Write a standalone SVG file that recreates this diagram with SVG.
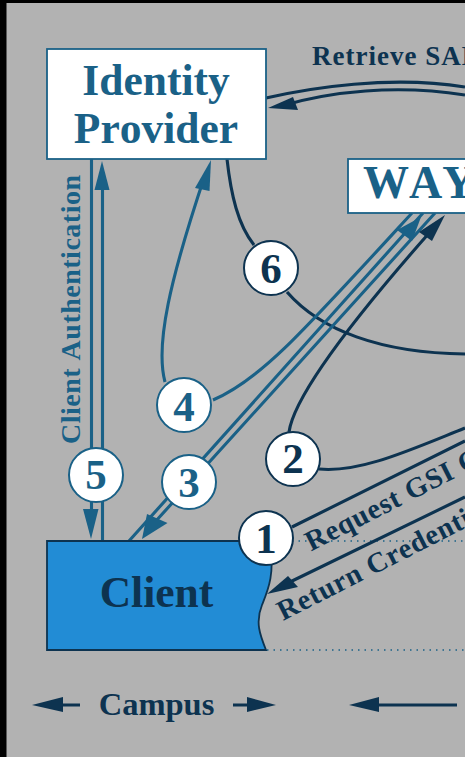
<svg xmlns="http://www.w3.org/2000/svg" width="467" height="757" viewBox="0 0 467 757">
<style>
text{font-family:"Liberation Serif",serif;font-weight:bold;font-kerning:none}
.lt{fill:#1a6187}.dk{fill:#0d3350}
.cl{fill:none;stroke:#1a6187;stroke-width:3.1}
.cd{fill:none;stroke:#0d3350;stroke-width:3.1}
.n{fill:#fff;stroke:#1a6187;stroke-width:2}
.nd{fill:#fff;stroke:#0d3350;stroke-width:2}
.num{font-size:43px;text-anchor:middle}
.big{font-size:43.5px;text-anchor:middle}
.h1{fill:#1a6187}.h2{fill:#0d3350}
.dot{fill:none;stroke:#1a6187;stroke-width:1.4;stroke-dasharray:1.5 5}
</style>
<rect width="467" height="757" fill="#fff"/>
<rect width="465" height="757" fill="#000"/>
<rect x="6.5" y="3" width="458.5" height="754" fill="#b2b2b2"/>
<svg x="0" y="0" width="465" height="757" viewBox="0 0 465 757">
<g id="connectors">
<path class="dot" d="M292 541H465M267 650H465"/>
<path class="cd" d="M266 98C310 88 390 75 465 87M285 105C330 92 395 84 465 95"/>
<path class="h2" d="M268 108L293 97L298 110Z"/>
<path class="cd" d="M227 159C231 195 238 225 254 245M287 292C320 330 380 353 465 354"/>
<path class="cl" d="M91.500 159V450M102.500 175V541M91.500 500V512"/>
<path class="h1" d="M102 161L109.500 190H94.500Z"/>
<path class="h1" d="M91 539L83 509H98.500Z"/>
<path class="cl" d="M165 382C155 345 170 280 205 175"/>
<path class="h1" d="M211 160L209.500 191L195 188Z"/>
<path class="cl" d="M213 400C260 380 300 335 412 213"/>
<path class="cl" d="M129 541L423 213M155 522L435 213"/>
<path class="h1" d="M142 539L167.500 523L147 514Z"/>
<path class="h1" d="M421 217L412 241L397 230Z"/>
<path class="cd" d="M289 432C295 390 370 300 430 232"/>
<path class="h2" d="M445 215L432 241L419 232Z"/>
<path class="cd" d="M319 469C360 473 410 450 465 428"/>
<path class="cd" d="M292 527L465 441M290 582L465 497"/>
<path class="h2" d="M267 594L288 576L298 587Z"/>
<path class="h2" d="M32 705L63 697V712Z"/>
<path class="cd" d="M60 705H80M233 705H250M368 705H457"/>
<path class="h2" d="M276 705L247 697V712Z"/>
<path class="h2" d="M349 705L379 697V712Z"/>
</g>
<g id="identity-provider"><rect x="47" y="49" width="219" height="110" fill="#fff" stroke="#1a6187" stroke-width="1.8"/>
<text class="lt big" x="156" y="94.500">Identity</text>
<text class="lt big" x="156" y="143">Provider</text></g>
<g id="way"><rect x="348" y="159" width="130" height="54" fill="#fff" stroke="#1a6187" stroke-width="1.8"/>
<text class="lt" x="363" y="198" font-size="46">WAY</text></g>
<g id="client"><path d="M47 541H270C275 575 268 590 262 605C255 622 260 635 266 650H47Z" fill="#228cd5" stroke="#0d3350" stroke-width="1.8"/>
<text class="dk big" x="156.500" y="607">Client</text></g>
<g id="n6"><circle class="nd" cx="271" cy="268" r="27"/><text class="dk num" x="271" y="283">6</text></g>
<g id="n4"><circle class="n" cx="184" cy="405" r="27"/><text class="lt num" x="184" y="421">4</text></g>
<g id="n2"><circle class="nd" cx="293" cy="459" r="27"/><text class="dk num" x="293" y="473">2</text></g>
<g id="n5"><circle class="n" cx="96" cy="475" r="27"/><text class="lt num" x="96" y="489">5</text></g>
<g id="n3"><circle class="n" cx="189" cy="482" r="27"/><text class="lt num" x="189" y="497">3</text></g>
<g id="n1"><circle class="nd" cx="266" cy="538" r="27"/><text class="dk num" x="266" y="553">1</text></g>
<g id="labels">
<text class="dk" x="312" y="65" font-size="27" letter-spacing="1">Retrieve SAM</text>
<text class="lt" font-size="28" letter-spacing="0.5" transform="translate(80 444) rotate(-90)">Client Authentication</text>
<text class="dk" font-size="28.500" letter-spacing="0.8" transform="translate(311 551.500) rotate(-27)">Request GSI C</text>
<text class="dk" font-size="28.500" letter-spacing="0.8" transform="translate(283 621) rotate(-27)">Return Credenti</text>
<text class="dk" x="156.500" y="715" font-size="32.500" text-anchor="middle">Campus</text>
</g>
</svg>
</svg>
